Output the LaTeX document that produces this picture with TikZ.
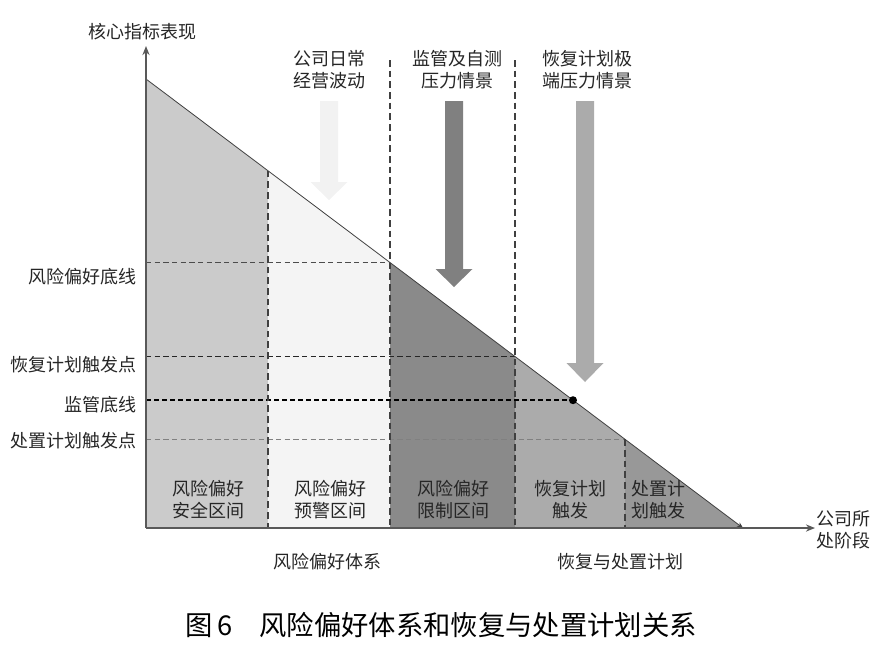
\documentclass[tikz,border=0pt]{standalone}
\usepackage{fontspec}
\setmainfont{Noto Sans CJK SC}
\usetikzlibrary{arrows.meta}
\definecolor{zA}{HTML}{CBCBCB}
\definecolor{zB}{HTML}{F4F4F4}
\definecolor{zC}{HTML}{8A8A8A}
\definecolor{zD}{HTML}{ABABAB}
\definecolor{zE}{HTML}{989898}
\tikzset{
  >={Stealth[length=2.4mm,width=1.9mm]},
  lb/.style={font=\fontsize{13.5}{16.5}\selectfont,text=black!85,align=center,inner sep=0pt},
  ax/.style={draw=black!65,line width=1.1pt},
  hl/.style={dash pattern=on 4pt off 2.5pt,line width=1.2pt},
  vl/.style={draw=black!75,dash pattern=on 5pt off 3pt,line width=0.8pt},
  every picture/.style={line width=0.5pt},
}
% big down arrow: x, top, head start, tip, colour
\newcommand\bigarr[5]{\fill[#5] (#1-9,#2) -- (#1+9,#2) -- (#1+9,#3) -- (#1+18.5,#3)
  -- (#1,#4) -- (#1-18.5,#3) -- (#1-9,#3) -- cycle;}

\begin{document}
\begin{tikzpicture}[x=0.75pt,y=-0.75pt]
\useasboundingbox (0,0) rectangle (886,658);
\coordinate (o) at (146,528); \coordinate (yt) at (146,46); \coordinate (xt) at (815,528);
\coordinate (d0) at (146,79); \coordinate (d5) at (743,528);
\coordinate (d1) at (268,170.8); \coordinate (d2) at (390,262.5); \coordinate (d3) at (515,356.5);
\coordinate (d4) at (625,439.3); \coordinate (m) at (573,400.2);
% zones
\fill[zA] (o) -- (d0) -- (d1) -- (268,528) -- cycle;
\fill[zB] (268,528) -- (d1) -- (d2) -- (390,528) -- cycle;
\fill[zC] (390,528) -- (d2) -- (d3) -- (515,528) -- cycle;
\fill[zD] (515,528) -- (d3) -- (d4) -- (625,528) -- cycle;
\fill[zE] (625,528) -- (d4) -- (d5) -- cycle;
% levels
\draw[hl,draw=black!70] (146,262.5) -- (d2);
\draw[hl,draw=black!85] (146,356.5) -- (d3);
\draw[hl,draw=black,line width=1.8pt,dash pattern=on 4pt off 2pt] (146,400.2) -- (m);
\draw[hl,draw=black!50] (146,439.3) -- (d4);
\draw[vl] (d1) -- (268,528); \draw[vl] (390,60) -- (390,528);
\draw[vl] (515,60) -- (515,528); \draw[vl] (d4) -- (625,528);
\draw[->,draw=black!75,line width=0.6pt,>={Stealth[length=1.6mm,width=1.3mm]}] (d0) -- (d5);
\fill (m) circle (4);
\draw[ax,->] (o) -- (yt); \draw[ax,->] (o) -- (xt);
% pressure arrows
\bigarr{329}{101}{182}{200}{black!5}
\bigarr{454}{101}{269}{287}{black!50}
\bigarr{585}{101}{363}{382}{black!33}
% texts
\node[lb] (yl) at (142,32) {核心指标表现};
\node[lb] (xl) at (843,530) {公司所\\处阶段};
\node[lb] (s1) at (329,70) {公司日常\\经营波动};
\node[lb] (s2) at (457,70) {监管及自测\\压力情景};
\node[lb] (s3) at (587,70) {恢复计划极\\端压力情景};
\node[lb,anchor=east] (l1) at (137,277) {风险偏好底线};
\node[lb,anchor=east] (l2) at (137,365) {恢复计划触发点};
\node[lb,anchor=east] (l3) at (137,405) {监管底线};
\node[lb,anchor=east] (l4) at (137,441) {处置计划触发点};
\node[lb] (z1) at (208,500) {风险偏好\\安全区间};
\node[lb] (z2) at (330,500) {风险偏好\\预警区间};
\node[lb] (z3) at (453,500) {风险偏好\\限制区间};
\node[lb] (z4) at (570,500) {恢复计划\\触发};
\node[lb] (z5) at (658,500) {处置计\\划触发};
\node[lb] (g1) at (327,562) {风险偏好体系};
\node[lb] (g2) at (620,562) {恢复与处置计划};
\node[lb,font=\fontsize{20.5}{24}\selectfont,text=black] (cap) at (441,625) {图\,6\quad 风险偏好体系和恢复与处置计划关系};
\end{tikzpicture}
\end{document}
